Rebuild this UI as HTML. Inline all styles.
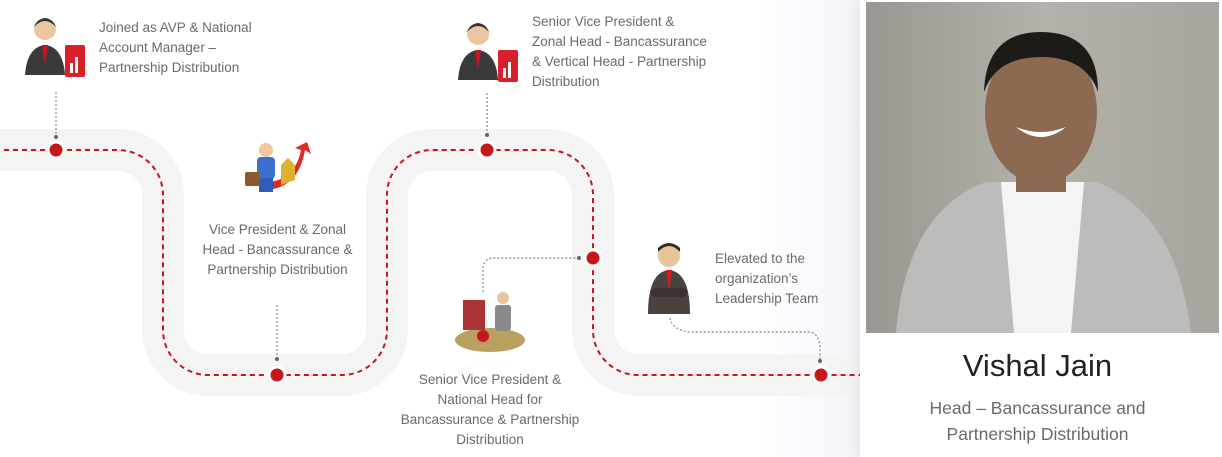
<!DOCTYPE html>
<html><head><meta charset="utf-8"><style>
body{margin:0;width:1222px;height:457px;overflow:hidden;background:#fff;font-family:"Liberation Sans",sans-serif;position:relative}
.t{position:absolute;font-size:13.5px;line-height:20px;color:#6a6a6a}
.c{text-align:center}
</style></head><body>
<div style="position:absolute;left:760px;top:0;width:100px;height:457px;background:linear-gradient(90deg,#fff,#f3f3fb)"></div>
<svg width="1222" height="457" style="position:absolute;left:0;top:0">
<path d="M-5,150 H118 A45,45 0 0 1 163,195 V330 A45,45 0 0 0 208,375 H342 A45,45 0 0 0 387,330 V195 A45,45 0 0 1 432,150 H548 A45,45 0 0 1 593,195 V330 A45,45 0 0 0 638,375 H862" fill="none" stroke="#f4f4f4" stroke-width="42"/>
<path d="M-5,150 H118 A45,45 0 0 1 163,195 V330 A45,45 0 0 0 208,375 H342 A45,45 0 0 0 387,330 V195 A45,45 0 0 1 432,150 H548 A45,45 0 0 1 593,195 V330 A45,45 0 0 0 638,375 H862" fill="none" stroke="#c8161d" stroke-width="2" stroke-dasharray="5,4"/>
<g stroke="#888" stroke-width="1.2" stroke-dasharray="2,2" fill="none">
<path d="M56,92 V136"/><path d="M277,305 V358"/><path d="M487,93 V134"/>
<path d="M483,292 V268 A10,10 0 0 1 493,258 H578"/>
<path d="M670,318 Q672,330 690,332 H810 Q820,334 820,350 V360"/>
</g>
<g fill="#666"><circle cx="56" cy="137" r="2"/><circle cx="277" cy="359" r="2"/><circle cx="487" cy="135" r="2"/><circle cx="579" cy="258" r="2"/><circle cx="820" cy="361" r="2"/></g>
<g fill="#c8161d" stroke="#fff" stroke-width="3">
<circle cx="56" cy="150" r="8"/><circle cx="277" cy="375" r="8"/><circle cx="487" cy="150" r="8"/><circle cx="593" cy="258" r="8"/><circle cx="821" cy="375" r="8"/></g>
<!-- icons -->
<g transform="translate(25,15)"><circle cx="20" cy="14" r="11" fill="#e9c6a0"/><path d="M9,12 Q20,0 31,12 Q28,4 20,3 Q12,4 9,12Z" fill="#333"/><path d="M0,60 Q2,32 20,30 Q38,32 40,60Z" fill="#3a3a3a"/><path d="M17,30 L20,50 L23,30Z" fill="#c8161d"/><rect x="40" y="30" width="20" height="32" rx="2" fill="#d9202a"/><rect x="45" y="48" width="3" height="10" fill="#fff"/><rect x="50" y="42" width="3" height="16" fill="#fff"/></g>
<g transform="translate(458,20)"><circle cx="20" cy="14" r="11" fill="#e9c6a0"/><path d="M9,12 Q20,0 31,12 Q28,4 20,3 Q12,4 9,12Z" fill="#333"/><path d="M0,60 Q2,32 20,30 Q38,32 40,60Z" fill="#3a3a3a"/><path d="M17,30 L20,50 L23,30Z" fill="#c8161d"/><rect x="40" y="30" width="20" height="32" rx="2" fill="#d9202a"/><rect x="45" y="48" width="3" height="10" fill="#fff"/><rect x="50" y="42" width="3" height="16" fill="#fff"/></g>
<g transform="translate(243,140)"><path d="M20,50 Q55,50 62,10 L68,14 L64,2 L52,8 L58,10 Q52,40 25,42Z" fill="#e02a2a"/><path d="M38,45 L38,25 L45,18 L52,25 L52,40Z" fill="#e0b030"/><circle cx="23" cy="10" r="7" fill="#f0c8a0"/><rect x="14" y="17" width="18" height="22" rx="4" fill="#3a6fd0"/><rect x="16" y="38" width="14" height="14" fill="#2f5cb8"/><rect x="2" y="32" width="15" height="14" rx="2" fill="#8a5a2a"/></g>
<g transform="translate(455,288)"><ellipse cx="35" cy="52" rx="35" ry="12" fill="#b9a060"/><rect x="8" y="12" width="22" height="30" fill="#a33"/><circle cx="48" cy="10" r="6" fill="#e8c49c"/><rect x="40" y="17" width="16" height="26" rx="3" fill="#8a8a8a"/><circle cx="28" cy="48" r="6" fill="#c8161d"/></g>
<g transform="translate(645,242)"><circle cx="24" cy="14" r="11" fill="#e8c49c"/><path d="M13,10 Q24,-2 35,10 L35,6 Q24,-4 13,6Z" fill="#3a2a20"/><path d="M3,72 Q3,30 24,28 Q45,30 45,72Z" fill="#4a423e"/><path d="M21,28 L24,50 L27,28Z" fill="#d01c24"/><rect x="6" y="46" width="36" height="9" rx="4" fill="#3a3330"/></g>
</svg>
<div class="t" style="left:99px;top:18px">Joined as AVP &amp; National<br>Account Manager –<br>Partnership Distribution</div>
<div class="t c" style="left:190px;top:220px;width:175px">Vice President &amp; Zonal<br>Head - Bancassurance &amp;<br>Partnership Distribution</div>
<div class="t" style="left:532px;top:12px">Senior Vice President &amp;<br>Zonal Head - Bancassurance<br>&amp; Vertical Head - Partnership<br>Distribution</div>
<div class="t c" style="left:390px;top:370px;width:200px">Senior Vice President &amp;<br>National Head for<br>Bancassurance &amp; Partnership<br>Distribution</div>
<div class="t" style="left:715px;top:249px">Elevated to the<br>organization’s<br>Leadership Team</div>
<div style="position:absolute;left:860px;top:0;width:362px;height:457px;background:#fff;box-shadow:-4px 0 12px rgba(120,120,160,.12)"></div>
<div style="position:absolute;left:866px;top:2px;width:353px;height:331px;background:linear-gradient(90deg,#9a9690,#b4b0aa 50%,#a8a49e);overflow:hidden">
<svg width="353" height="331"><path d="M30,331 Q40,210 120,180 L230,180 Q310,210 325,331Z" fill="#bdbcba"/><path d="M135,180 L218,180 L205,331 L148,331Z" fill="#f4f4f2"/><rect x="150" y="150" width="50" height="40" fill="#8a6a52"/><ellipse cx="175" cy="110" rx="56" ry="72" fill="#8c6a52"/><path d="M118,90 Q120,30 175,30 Q232,30 232,90 Q220,55 175,55 Q130,55 118,90Z" fill="#1e1a18"/><path d="M150,125 Q175,145 200,125 Q175,135 150,125Z" fill="#fff"/></svg></div>
<div style="position:absolute;left:860px;top:348px;width:355px;text-align:center;font-size:31px;color:#222">Vishal Jain</div>
<div style="position:absolute;left:860px;top:395px;width:355px;text-align:center;font-size:17.5px;line-height:26px;color:#6a6a6a">Head – Bancassurance and<br>Partnership Distribution</div>
</body></html>
